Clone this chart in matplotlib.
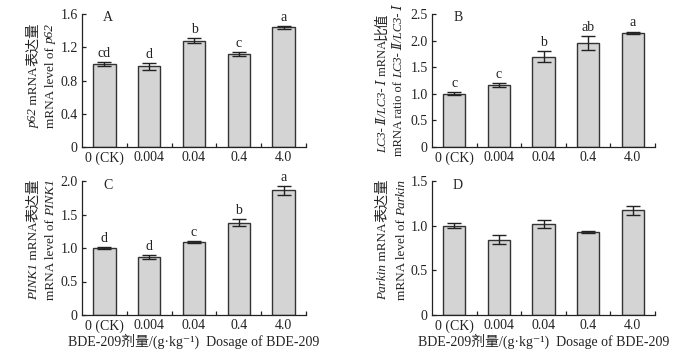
import matplotlib
matplotlib.use("Agg")
import matplotlib.pyplot as plt
from matplotlib.ticker import FuncFormatter

plt.rcParams['font.family'] = ['Liberation Serif', 'DejaVu Serif', 'Noto Sans CJK SC']

doses = ["0 (CK)", "0.004", "0.04", "0.4", "4.0"]

p62_mean = [1.00, 0.97, 1.28, 1.12, 1.44]
p62_err = [0.02, 0.04, 0.03, 0.02, 0.02]
p62_sig = ["cd", "d", "b", "c", "a"]

lc3_mean = [1.00, 1.16, 1.70, 1.96, 2.15]
lc3_err = [0.03, 0.04, 0.10, 0.13, 0.02]
lc3_sig = ["c", "c", "b", "ab", "a"]

pink1_mean = [1.00, 0.87, 1.09, 1.38, 1.86]
pink1_err = [0.02, 0.03, 0.02, 0.05, 0.07]
pink1_sig = ["d", "d", "c", "b", "a"]

parkin_mean = [1.00, 0.84, 1.02, 0.93, 1.17]
parkin_err = [0.03, 0.05, 0.045, 0.01, 0.05]
parkin_sig = None

W, H = 682, 354
fig = plt.figure(figsize=(W / 100, H / 100), dpi=100)
ink = "#222222"


def px_axes(x0, y0, x1, y1):
    return fig.add_axes([x0 / W, 1 - y1 / H, (x1 - x0) / W, (y1 - y0) / H])


def panel(ax, mean, err, sig, ymax, ystep, letter):
    x = range(len(doses))
    ax.bar(x, mean, width=0.5, color="#d4d4d4", edgecolor="#333333", linewidth=1.0, zorder=2)
    ax.errorbar(x, mean, yerr=err, fmt="none", ecolor=ink, elinewidth=1.0,
                capsize=5, capthick=1.0, zorder=3)
    if sig:
        for i, s in enumerate(sig):
            ax.annotate(s, (i, mean[i] + err[i]), xytext=(0, 1.5), textcoords="offset points",
                        ha="center", va="bottom", fontsize=10, color=ink)
    ax.set_xlim(-0.5, 4.5)
    ax.set_ylim(0, ymax)
    yt = [round(i * ystep, 2) for i in range(int(round(ymax / ystep)) + 1)]
    ax.set_yticks(yt)
    ax.yaxis.set_major_formatter(FuncFormatter(lambda v, p: "0" if v == 0 else f"{v:.1f}"))
    ax.set_xticks(list(x))
    ax.set_xticklabels(doses)
    ax.set_xticks([i + 0.5 for i in x], minor=True)
    ax.tick_params(axis="x", which="major", length=0, pad=3, labelsize=10, labelcolor=ink)
    ax.tick_params(axis="x", which="minor", direction="in", length=3, color=ink, width=0.9)
    ax.tick_params(axis="y", direction="in", length=3, color=ink, width=0.9,
                   labelsize=10, labelcolor=ink, pad=3)
    for s in ["top", "right"]:
        ax.spines[s].set_visible(False)
    for s in ["left", "bottom"]:
        ax.spines[s].set_color(ink)
        ax.spines[s].set_linewidth(0.9)
    ax.text(0.116, 0.97, letter, transform=ax.transAxes, ha="center", va="center",
            fontsize=10, color=ink)


def rot_label(x, y, pieces, size=9.5):
    # vertical label built from pieces (text, style, size factor), from pixel (x, y) upward
    r = fig.canvas.get_renderer()
    for s, it, k in pieces:
        t = fig.text((x + 4) / W, 1 - y / H, s, rotation=90, rotation_mode="anchor",
                     ha="left", va="baseline", fontsize=size * k, color=ink,
                     style="italic" if it else "normal",
                     weight="light" if k > 1 else "normal")
        y -= t.get_window_extent(r).height


axA = px_axes(82, 14, 306, 147)
panel(axA, p62_mean, p62_err, p62_sig, 1.6, 0.4, "A")
axB = px_axes(432, 14, 655, 147)
panel(axB, lc3_mean, lc3_err, lc3_sig, 2.5, 0.5, "B")
axC = px_axes(82, 181, 306, 315)
panel(axC, pink1_mean, pink1_err, pink1_sig, 2.0, 0.5, "C")
axD = px_axes(432, 181, 655, 315)
panel(axD, parkin_mean, parkin_err, parkin_sig, 1.5, 0.5, "D")

rot_label(33, 128, [("p62", True, 1), (" mRNA", False, 1), ("表达量", False, 1.1)])
rot_label(50, 128, [("mRNA level of ", False, 1), ("p62", True, 1)])
rot_label(382, 153, [("LC3- Ⅱ/LC3- Ⅰ", True, 1), (" mRNA", False, 1), ("比值", False, 1.1)], size=9)
rot_label(398, 156, [("mRNA ratio of ", False, 1), ("LC3- Ⅱ/LC3- Ⅰ", True, 1)], size=9)
rot_label(33, 300, [("PINK1", True, 1), (" mRNA", False, 1), ("表达量", False, 1.1)])
rot_label(50, 300, [("mRNA level of ", False, 1), ("PINK1", True, 1)])
rot_label(382, 300, [("Parkin", True, 1), (" mRNA", False, 1), ("表达量", False, 1.1)])
rot_label(401, 300, [("mRNA level of ", False, 1), ("Parkin", True, 1)])

xlab = "BDE-209剂量/(g·kg⁻¹)  Dosage of BDE-209"
for ax in (axC, axD):
    ax.set_xlabel(xlab, fontsize=10, color=ink, labelpad=1)

fig.savefig("out.png", dpi=100)
